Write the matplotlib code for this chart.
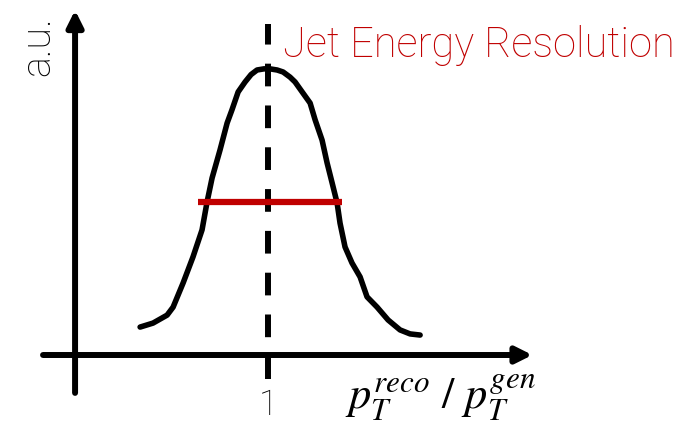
import matplotlib.pyplot as plt

# response curve, x in units of pT(reco)/pT(gen), y normalised to peak
curve_x = [0.337, 0.404, 0.477, 0.508, 0.560, 0.611, 0.658, 0.684, 0.710, 0.751,
           0.788, 0.813, 0.845, 0.881, 0.912, 0.943, 0.979, 1.010, 1.047, 1.078,
           1.114, 1.140, 1.181, 1.218, 1.244, 1.280, 1.306, 1.332, 1.358, 1.373,
           1.399, 1.435, 1.477, 1.513, 1.565, 1.622, 1.684, 1.736, 1.788]
curve_y = [0.098, 0.112, 0.140, 0.168, 0.253, 0.344, 0.439, 0.537, 0.621, 0.719,
           0.814, 0.860, 0.923, 0.958, 0.984, 1.000, 1.004, 1.004, 1.000, 0.993,
           0.975, 0.958, 0.919, 0.884, 0.825, 0.754, 0.674, 0.604, 0.533, 0.463,
           0.379, 0.323, 0.274, 0.204, 0.168, 0.123, 0.088, 0.074, 0.070]

# width at half maximum
fwhm_x = [0.637, 1.383]
fwhm_y = 0.537

peak_x = 1.0
red = '#c00000'

fig = plt.figure(figsize=(6.87, 4.25), dpi=100)
ax = fig.add_axes([0, 0, 1, 1])
ax.set_xlim(-0.389, 3.171)
ax.set_ylim(-0.2456, 1.2456)
ax.axis('off')

# axes drawn as arrows
arrow = dict(arrowstyle='-|>', lw=4.3, color='black', mutation_scale=24,
             shrinkA=0, shrinkB=0)
ax.annotate('', xy=(2.37, 0), xytext=(-0.166, 0), arrowprops=arrow)
ax.annotate('', xy=(0, 1.21), xytext=(0, -0.133), arrowprops=arrow)

# vertical dashed line at response = 1
ax.plot([peak_x, peak_x], [-0.084, 1.16], color='black', lw=4.3,
        linestyle=(0, (3.8, 3.2)), solid_capstyle='butt')

ax.plot(curve_x, curve_y, color='black', lw=4, solid_joinstyle='round',
        solid_capstyle='round')
ax.plot(fwhm_x, [fwhm_y, fwhm_y], color=red, lw=4.5, solid_capstyle='butt')

ax.text(1.078, 1.046, 'Jet Energy Resolution', color=red, fontsize=30,
        family='Roboto', fontweight='light', ha='left', va='baseline')
ax.text(-0.192, 1.084, 'a.u.', fontsize=28.5, family='Roboto', fontweight='light',
        rotation=90, ha='center', va='center')
ax.text(peak_x, -0.212, '1', fontsize=25, family='Roboto', fontweight='light',
        ha='center', va='baseline')
ax.text(1.399, -0.15, r'$p_T^{reco}\ /\ p_T^{gen}$', fontsize=32,
        math_fontfamily='stix', ha='left', va='center')

fig.savefig('out.png', dpi=100)
